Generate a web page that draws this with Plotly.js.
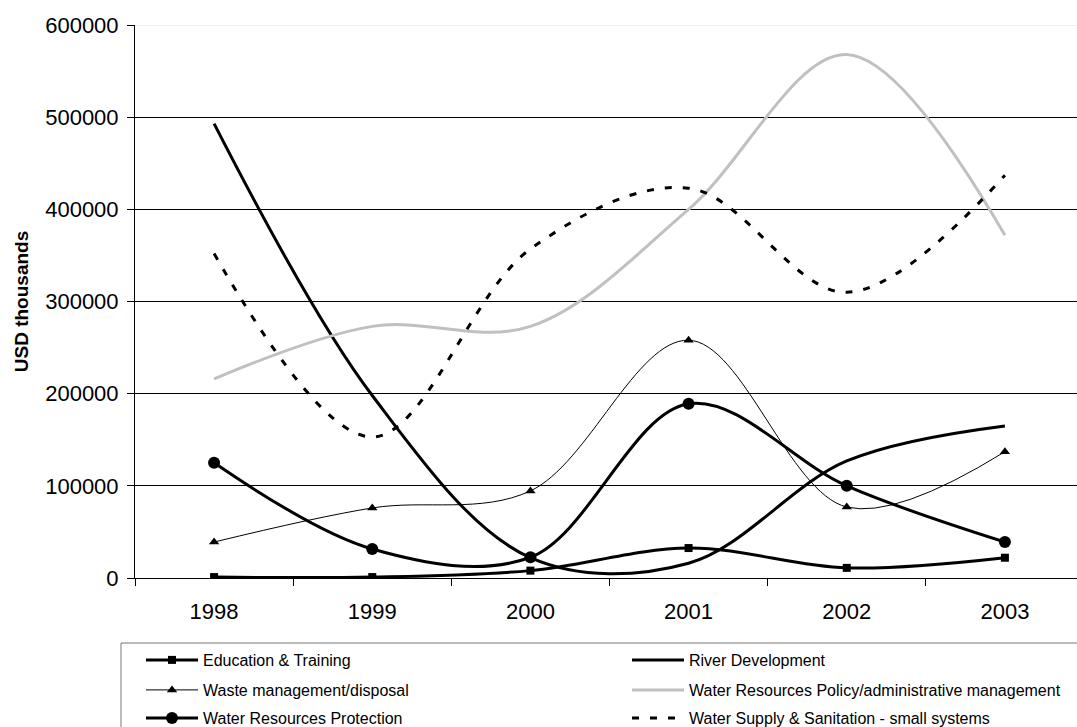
<!DOCTYPE html>
<html>
<head>
<meta charset="utf-8">
<script src="https://cdn.plot.ly/plotly-3.0.1.min.js"></script>
<style>
html,body{margin:0;padding:0;overflow:hidden;background:#fff;}
#chart{width:1200px;height:760px;}
</style>
</head>
<body>
<div id="chart"></div>
<script>
const years = ['1998','1999','2000','2001','2002','2003'];
const educationTraining = [1000, 1000, 8000, 32500, 11000, 22000];
const riverDevelopment = [493000, 198000, 22000, 16000, 127000, 165000];
const wasteManagement = [39000, 76000, 94500, 258000, 77000, 137000];
const policyAdmin = [216000, 273000, 273000, 400000, 568000, 372000];
const resourcesProtection = [125000, 31500, 22500, 189000, 100000, 39000];
const supplySanitation = [352000, 153000, 357000, 423000, 310000, 437000];

const FONT = 'Arial, "Liberation Sans", sans-serif';

const traces = [
  {name:'Education & Training', legend:'legend', x:years, y:educationTraining, mode:'lines+markers',
   line:{color:'#000', width:3, shape:'spline', smoothing:1},
   marker:{symbol:'square', size:8, color:'#000'}},
  {name:'River Development', legend:'legend2', x:years, y:riverDevelopment, mode:'lines',
   line:{color:'#000', width:3, shape:'spline', smoothing:1}},
  {name:'Waste management/disposal', legend:'legend3', x:years, y:wasteManagement, mode:'lines+markers',
   line:{color:'#000', width:1, shape:'spline', smoothing:1},
   marker:{symbol:'triangle-up', size:9, color:'#000'}},
  {name:'Water Resources Policy/administrative management', legend:'legend4', x:years, y:policyAdmin, mode:'lines',
   line:{color:'#c0c0c0', width:3, shape:'spline', smoothing:1}},
  {name:'Water Resources Protection', legend:'legend5', x:years, y:resourcesProtection, mode:'lines+markers',
   line:{color:'#000', width:3, shape:'spline', smoothing:1},
   marker:{symbol:'circle', size:12, color:'#000'}},
  {name:'Water Supply & Sanitation - small systems', legend:'legend6', x:years, y:supplySanitation, mode:'lines',
   line:{color:'#000', width:3, shape:'spline', smoothing:1, dash:'7px,11px'}}
];

const W = 1200, H = 760;
const PL = 135, PR = 1084, PT = 25, PB = 578;
const pxX = v => (v - PL) / (PR - PL);
const pxY = v => (PB - v) / (PB - PT);

function legendAt(leftX, centerY) {
  return {
    orientation:'v', xref:'paper', yref:'paper',
    x:pxX(leftX), y:pxY(centerY), xanchor:'left', yanchor:'middle',
    bgcolor:'rgba(0,0,0,0)', borderwidth:0,
    font:{family:FONT, size:16, color:'#000'},
    itemwidth:52, traceorder:'normal'
  };
}

const layout = {
  width: W, height: H,
  margin: {l:PL, r:W-PR, t:PT, b:H-PB, pad:0, autoexpand:false},
  paper_bgcolor:'#fff', plot_bgcolor:'#fff',
  font:{family:FONT, color:'#000', size:20},
  showlegend:true,
  xaxis:{
    type:'category', range:[-0.5, 5.5], fixedrange:true,
    showline:true, linecolor:'#000', linewidth:1,
    ticks:'outside', tickson:'boundaries', ticklen:7, tickcolor:'#000', tickwidth:1,
    showgrid:false, zeroline:false, tickangle:0, automargin:false,
    tickfont:{family:FONT, size:22, color:'#000'}, ticklabelstandoff:14
  },
  yaxis:{
    range:[0, 600000], dtick:100000, tick0:0, fixedrange:true,
    showline:true, linecolor:'#000', linewidth:1,
    ticks:'outside', ticklen:7, tickcolor:'#000', tickwidth:1,
    showgrid:true, gridcolor:'#000', gridwidth:1, zeroline:false,
    tickformat:'d',
    tickfont:{family:FONT, size:22, color:'#000'}, ticklabelstandoff:4,
    title:{text:'USD thousands', font:{family:FONT, size:19, color:'#000', weight:'bold'}, standoff:11},
    automargin:false
  },
  shapes:[
    {type:'line', xref:'paper', yref:'y', x0:0, x1:1, y0:600000, y1:600000,
     line:{color:'#e6e6e6', width:1}, layer:'above'},
    {type:'rect', xref:'paper', yref:'paper', x0:pxX(121), x1:pxX(1095), y0:pxY(643), y1:pxY(775),
     line:{color:'#777', width:1}, fillcolor:'rgba(0,0,0,0)', layer:'below'}
  ],
  legend: legendAt(141, 660),
  legend2: legendAt(627, 660),
  legend3: legendAt(141, 690),
  legend4: legendAt(627, 690),
  legend5: legendAt(141, 718),
  legend6: legendAt(627, 718)
};

Plotly.newPlot('chart', traces, layout, {displayModeBar:false, staticPlot:true});
</script>
</body>
</html>
